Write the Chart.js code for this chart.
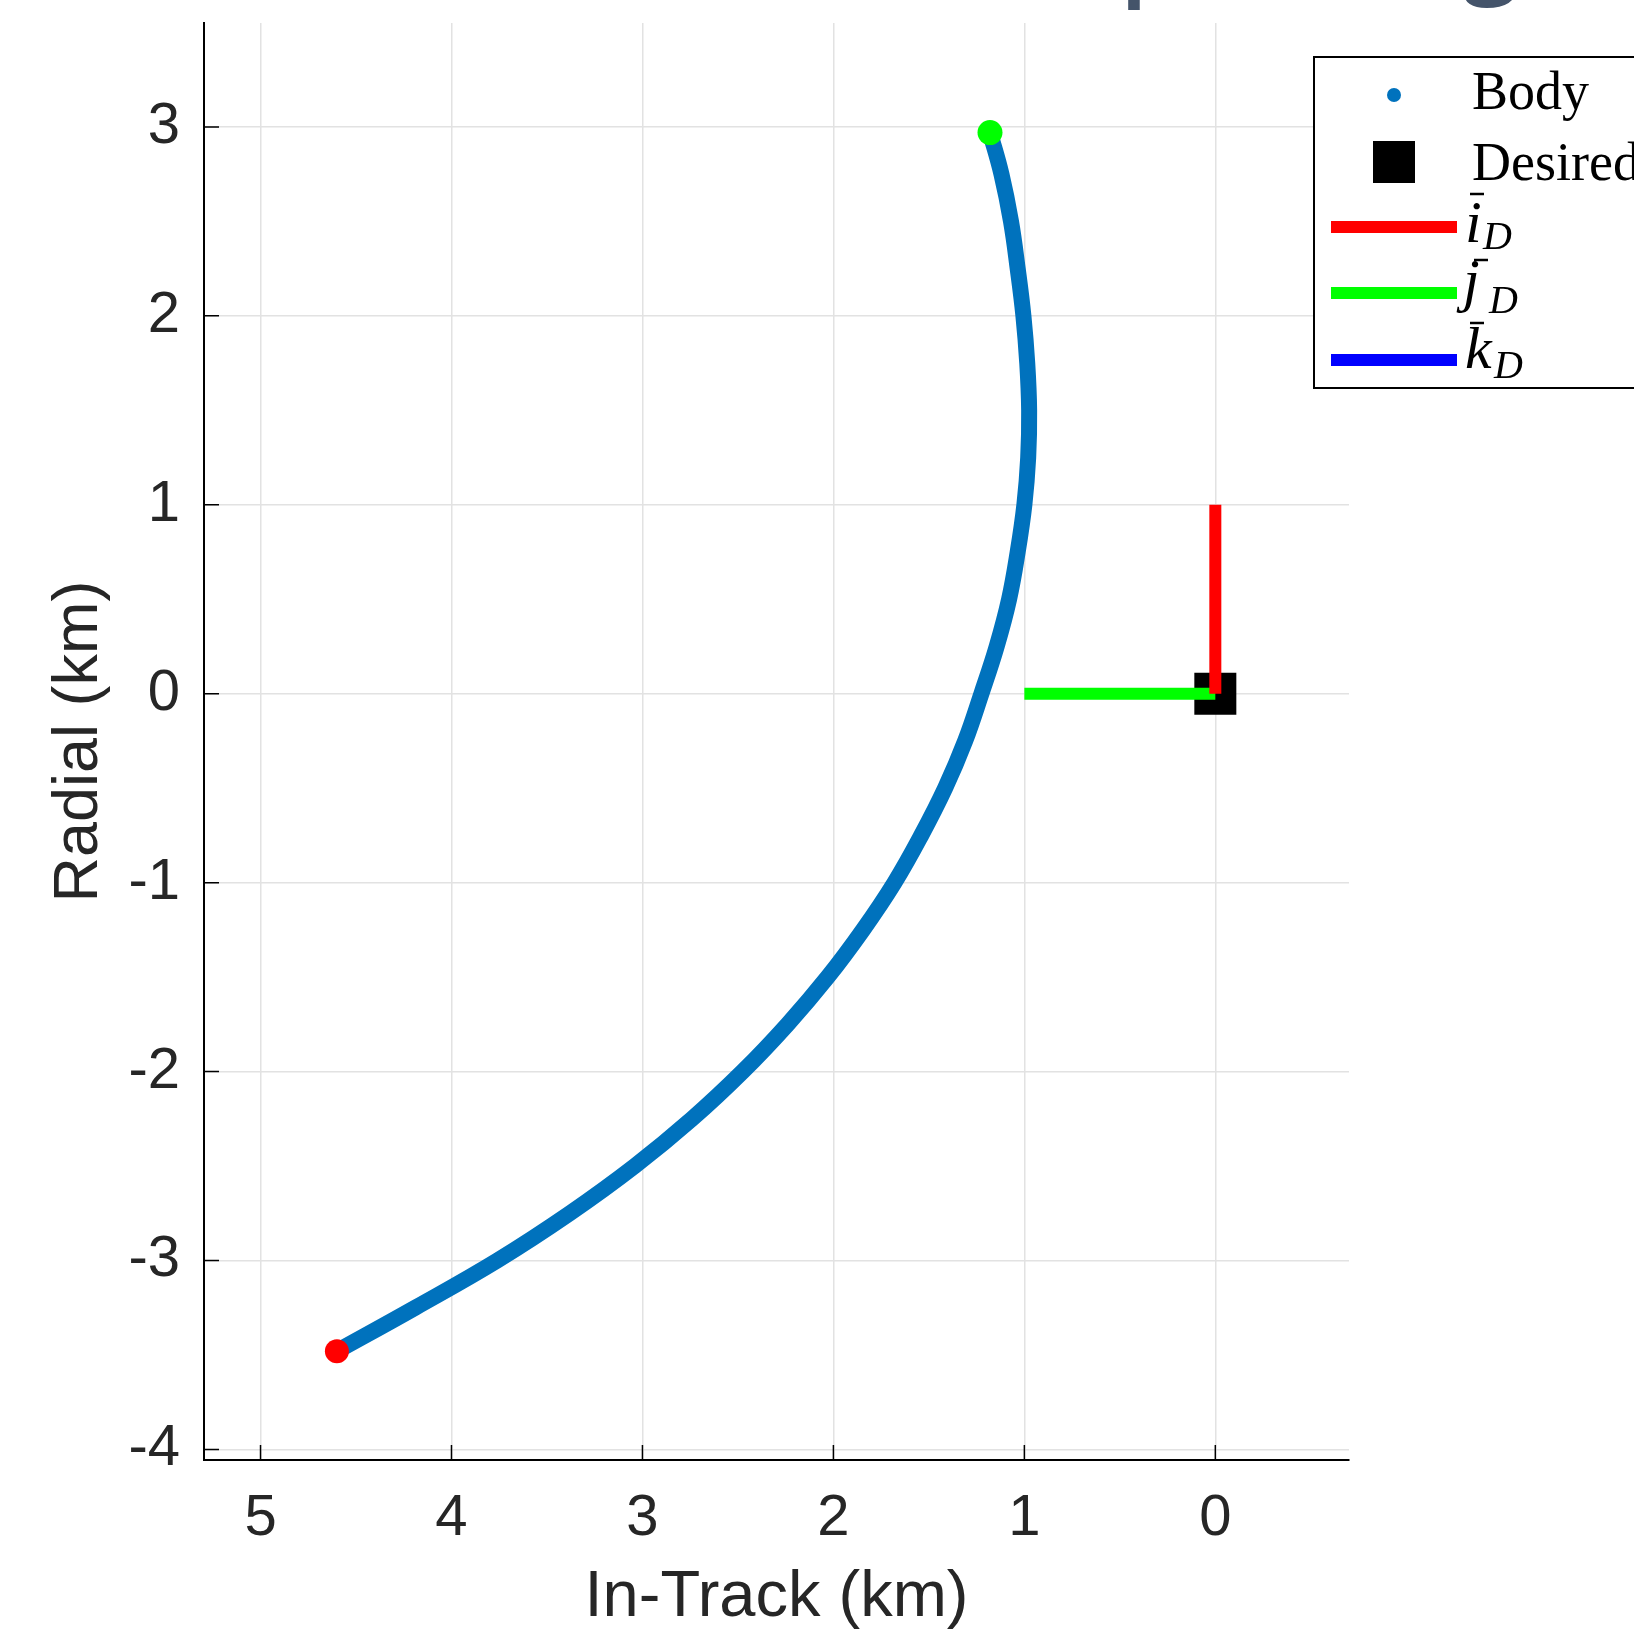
<!DOCTYPE html>
<html>
<head>
<meta charset="utf-8">
<script src="https://cdn.jsdelivr.net/npm/chart.js@4.4.0/dist/chart.umd.min.js"></script>
<style>
  html, body { margin: 0; padding: 0; background: #fff; }
  canvas { display: block; }
</style>
</head>
<body>
<canvas id="chart" width="1634" height="1633"></canvas>
<script>
// body trajectory (km)
const bodyInTrack = [1.18, 1.12, 1.07, 1.035, 1.005, 0.985, 0.975, 0.98, 1.00, 1.035, 1.08, 1.145, 1.225,
  1.31, 1.415, 1.54, 1.68, 1.845, 2.03, 2.24, 2.475, 2.74, 3.04, 3.38, 3.76, 4.19, 4.60]
const bodyRadial = [2.97, 2.75, 2.5, 2.25, 2.0, 1.75, 1.5, 1.25, 1.0, 0.75, 0.5, 0.25, 0.0,
  -0.25, -0.5, -0.75, -1.0, -1.25, -1.5, -1.75, -2.0, -2.25, -2.5, -2.75, -3.0, -3.25, -3.48]

// desired frame at the origin, unit vectors
const desiredPos = [0, 0]
const iDInTrack = [0, 0]
const iDRadial = [0, 1]
const jDInTrack = [0, 1]
const jDRadial = [0, 0]
const kDInTrack = [0, 0]
const kDRadial = [0, 0]

const xTicks = [0, 1, 2, 3, 4, 5]
const yTicks = [-4, -3, -2, -1, 0, 1, 2, 3]

const textColor = '#262626'
const gridColor = '#e2e2e2'
const sansFont = "'Liberation Sans', Arial, Helvetica, sans-serif"
const serifFont = "'Liberation Serif', 'Times New Roman', serif"

const toPoints = (xs, ys) => xs.map((x, i) => ({ x: x, y: ys[i] }))
const bodyPoints = toPoints(bodyInTrack, bodyRadial)

// inward ticks, legend box and the cut-off slide title above the plot
const matlabExtras = {
  id: 'matlabExtras',
  afterDraw(chart) {
    const ctx = chart.ctx
    const xs = chart.scales.x
    const ys = chart.scales.y
    const area = chart.chartArea
    ctx.save()

    // tick marks pointing inside
    ctx.strokeStyle = '#000'
    ctx.lineWidth = 1.5
    ctx.beginPath()
    yTicks.forEach(v => {
      const py = ys.getPixelForValue(v)
      ctx.moveTo(area.left, py)
      ctx.lineTo(area.left + 15, py)
    })
    xTicks.forEach(v => {
      const px = xs.getPixelForValue(v)
      ctx.moveTo(px, area.bottom)
      ctx.lineTo(px, area.bottom - 15)
    })
    ctx.stroke()

    // legend
    ctx.fillStyle = '#fff'
    ctx.fillRect(1314, 57, 340, 331)
    ctx.strokeStyle = '#000'
    ctx.lineWidth = 2
    ctx.strokeRect(1314, 57, 340, 331)

    ctx.fillStyle = '#0072bd'
    ctx.beginPath()
    ctx.arc(1394, 95, 7, 0, Math.PI * 2)
    ctx.fill()

    ctx.fillStyle = '#000'
    ctx.fillRect(1373, 141, 42, 42)

    ctx.lineWidth = 12
    ;[['#ff0000', 227], ['#00ff00', 293], ['#0000ff', 360]].forEach(([c, y]) => {
      ctx.strokeStyle = c
      ctx.beginPath()
      ctx.moveTo(1331, y)
      ctx.lineTo(1457, y)
      ctx.stroke()
    })

    ctx.fillStyle = '#000'
    ctx.textBaseline = 'alphabetic'
    ctx.textAlign = 'left'
    ctx.font = '54px ' + serifFont
    ctx.fillText('Body', 1472, 109)
    ctx.fillText('Desired', 1472, 180)

    const vec = (letter, x, base, barX, barY, dx, dBase) => {
      ctx.font = 'italic 60px ' + serifFont
      ctx.fillText(letter, x, base)
      ctx.font = 'italic 40px ' + serifFont
      ctx.fillText('D', dx, dBase)
      ctx.strokeStyle = '#000'
      ctx.lineWidth = 2.5
      ctx.beginPath()
      ctx.moveTo(barX, barY)
      ctx.lineTo(barX + 14, barY)
      ctx.stroke()
    }
    vec('i', 1465, 242, 1470, 194, 1483, 249)
    vec('j', 1463, 300, 1474, 260, 1489, 313)
    vec('k', 1465, 368, 1470, 323, 1494, 378)

    // cut-off slide title fragments
    ctx.fillStyle = '#44546a'
    ctx.font = '600 100px "Open Sans", sans-serif'
    ctx.fillText('p', 1120, -14)
    ctx.fillText('g', 1463, -16)

    ctx.restore()
  }
}

const ctx = document.getElementById('chart').getContext('2d')

new Chart(ctx, {
  type: 'scatter',
  data: {
    datasets: [{
      label: 'Start',
      data: [bodyPoints[0]],
      pointRadius: 12.5,
      backgroundColor: '#00ff00',
      borderWidth: 0,
      order: 0
    }, {
      label: 'End',
      data: [bodyPoints[bodyPoints.length - 1]],
      pointRadius: 12,
      backgroundColor: '#ff0000',
      borderWidth: 0,
      order: 0
    }, {
      label: 'iD',
      data: toPoints(iDInTrack, iDRadial),
      showLine: true,
      borderColor: '#ff0000',
      borderWidth: 12,
      pointRadius: 0,
      order: 1
    }, {
      label: 'jD',
      data: toPoints(jDInTrack, jDRadial),
      showLine: true,
      borderColor: '#00ff00',
      borderWidth: 12,
      pointRadius: 0,
      order: 1
    }, {
      label: 'kD',
      data: toPoints(kDInTrack, kDRadial),
      showLine: true,
      borderColor: '#0000ff',
      borderWidth: 12,
      pointRadius: 0,
      order: 1
    }, {
      label: 'Desired',
      data: [{ x: desiredPos[0], y: desiredPos[1] }],
      pointStyle: 'rect',
      pointRadius: 29.7,
      backgroundColor: '#000',
      borderWidth: 0,
      order: 2
    }, {
      label: 'Body',
      data: bodyPoints,
      showLine: true,
      borderColor: '#0072bd',
      borderWidth: 16,
      borderCapStyle: 'round',
      borderJoinStyle: 'round',
      tension: 0.4,
      pointRadius: 0,
      order: 3
    }]
  },
  options: {
    responsive: false,
    animation: false,
    layout: { autoPadding: false, padding: { left: 0, right: 285, top: 23, bottom: 0 } },
    plugins: {
      legend: { display: false },
      tooltip: { enabled: false }
    },
    scales: {
      x: {
        type: 'linear',
        reverse: true,
        min: -0.7,
        max: 5.296,
        afterBuildTicks: s => { s.ticks = xTicks.map(v => ({ value: v })) },
        afterFit: s => { s.height = 173; s.paddingLeft = 0; s.paddingRight = 0 },
        grid: { color: gridColor, lineWidth: 1.5, drawTicks: false },
        border: { display: true, color: '#000', width: 2 },
        ticks: {
          padding: 24,
          color: textColor,
          font: { family: sansFont, size: 58 },
          maxRotation: 0
        },
        title: {
          display: true,
          text: 'In-Track (km)',
          color: textColor,
          font: { family: sansFont, size: 65, lineHeight: 1 },
          padding: { top: 0, bottom: 2 }
        }
      },
      y: {
        type: 'linear',
        min: -4.056,
        max: 3.55,
        afterBuildTicks: s => { s.ticks = yTicks.map(v => ({ value: v })) },
        afterFit: s => { s.width = 204; s.paddingTop = 0; s.paddingBottom = 0 },
        grid: { color: gridColor, lineWidth: 1.5, drawTicks: false },
        border: { display: true, color: '#000', width: 2 },
        ticks: {
          padding: 24,
          color: textColor,
          font: { family: sansFont, size: 58 }
        },
        title: {
          display: true,
          text: 'Radial (km)',
          color: textColor,
          font: { family: sansFont, size: 63, lineHeight: 1 },
          padding: { top: 48, bottom: 0 }
        }
      }
    }
  },
  plugins: [matlabExtras]
});
</script>
</body>
</html>
